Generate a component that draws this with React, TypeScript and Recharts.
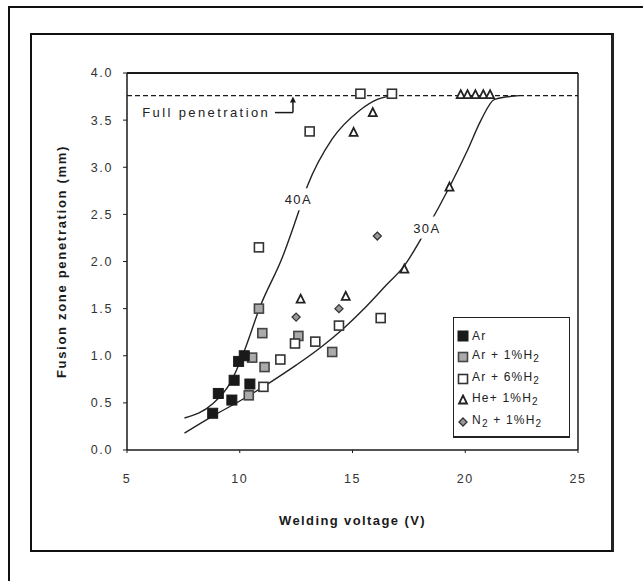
import React from "react";
import {
  ComposedChart,
  Line,
  Scatter,
  XAxis,
  YAxis,
  ReferenceLine,
  ReferenceDot,
  Label,
} from "recharts";

// measured points, [voltage (V), penetration (mm)]
const arPts = [
  [8.8, 0.39], [9.05, 0.6], [9.65, 0.53], [9.75, 0.74], [9.95, 0.94], [10.2, 1.0], [10.45, 0.7],
];
const ar1hPts = [
  [10.4, 0.58], [10.55, 0.98], [11.1, 0.88], [10.85, 1.5], [11.0, 1.24], [12.6, 1.21], [14.1, 1.04],
];
const ar6hPts = [
  [11.05, 0.67], [11.8, 0.96], [12.45, 1.13], [13.35, 1.15], [14.4, 1.32], [16.25, 1.4],
  [10.85, 2.15], [13.1, 3.38], [15.35, 3.78], [16.75, 3.78],
];
const he1hPts = [
  [12.7, 1.6], [14.7, 1.63], [15.05, 3.37], [15.9, 3.58], [17.3, 1.92], [19.3, 2.79],
  [19.8, 3.77], [20.1, 3.77], [20.45, 3.77], [20.8, 3.77], [21.1, 3.77],
];
const n21hPts = [
  [12.5, 1.41], [14.4, 1.5], [16.1, 2.27],
];

// hand-drawn trend curves
const curve40A = [
  [7.55, 0.34], [8.8, 0.49], [9.6, 0.72], [10.2, 1.05], [10.9, 1.52], [11.9, 2.05],
  [12.5, 2.45], [13.0, 2.8], [14.1, 3.3], [15.3, 3.6], [16.1, 3.72], [16.8, 3.76],
];
const curve30A = [
  [7.55, 0.18], [8.8, 0.36], [10.0, 0.52], [11.3, 0.71], [12.5, 0.9], [13.6, 1.09],
  [14.6, 1.29], [15.6, 1.52], [16.5, 1.75], [17.25, 1.94], [18.3, 2.35], [19.3, 2.79],
  [20.1, 3.18], [20.7, 3.5], [21.3, 3.72], [22.4, 3.76],
];

const fullPen = 3.76;
const xTicks = [5, 10, 15, 20, 25];
const yTicks = [0, 0.5, 1, 1.5, 2, 2.5, 3, 3.5, 4];

const toXY = (pts: number[][]) => pts.map(([x, y]) => ({ x, y }));

const INK = "#1a1a1a";
const FONT = "'Liberation Sans', Arial, sans-serif";
const tickStyle = { fill: "#333", fontSize: 12.5, fontFamily: FONT, letterSpacing: 1.6 };

const blackSquare = (p: any) => (
  <rect x={p.cx - 5} y={p.cy - 5} width={10} height={10} fill={INK} stroke={INK} />
);
const graySquare = (p: any) => (
  <rect x={p.cx - 4.5} y={p.cy - 4.5} width={9} height={9} fill="#aaa" stroke="#444" strokeWidth={1.6} />
);
const openSquare = (p: any) => (
  <rect x={p.cx - 4.5} y={p.cy - 4.5} width={9} height={9} fill="#fff" stroke="#333" strokeWidth={1.6} />
);
const triangle = (p: any) => (
  <path
    d={`M${p.cx},${p.cy - 4.5} L${p.cx + 4},${p.cy + 3.5} L${p.cx - 4},${p.cy + 3.5} Z`}
    fill="#fff"
    stroke="#222"
    strokeWidth={1.8}
  />
);
const diamond = (p: any) => (
  <path
    d={`M${p.cx},${p.cy - 4} L${p.cx + 4},${p.cy} L${p.cx},${p.cy + 4} L${p.cx - 4},${p.cy} Z`}
    fill="#999"
    stroke="#333"
    strokeWidth={1.3}
  />
);

const curveLabel = (text: string) => (p: any) => (
  <g>
    <rect x={p.cx - 19} y={p.cy - 11} width={38} height={22} fill="#fff" />
    <text
      x={p.cx}
      y={p.cy + 5}
      textAnchor="middle"
      fontSize={13}
      letterSpacing={1.4}
      fill="#222"
      fontFamily={FONT}
    >
      {text}
    </text>
  </g>
);

const LegendMark = ({ kind }: { kind: string }) => {
  const p = { cx: 6, cy: 6 };
  let m: React.ReactNode = null;
  if (kind === "ar") m = blackSquare(p);
  if (kind === "ar1") m = graySquare(p);
  if (kind === "ar6") m = openSquare(p);
  if (kind === "he") m = triangle(p);
  if (kind === "n2") m = diamond(p);
  return (
    <svg width={12} height={12} style={{ marginRight: 3, flex: "none" }}>
      {m}
    </svg>
  );
};

const legendRows: [string, React.ReactNode][] = [
  ["ar", <>Ar</>],
  ["ar1", <>Ar + 1%H<sub>2</sub></>],
  ["ar6", <>Ar + 6%H<sub>2</sub></>],
  ["he", <>He+ 1%H<sub>2</sub></>],
  ["n2", <>N<sub>2</sub> + 1%H<sub>2</sub></>],
];

export default function App() {
  return (
    <div
      style={{
        position: "absolute",
        left: 0,
        top: 0,
        width: 643,
        height: 581,
        background: "#fff",
        overflow: "hidden",
        fontFamily: FONT,
      }}
    >
      {/* outer frame */}
      <div
        style={{
          position: "absolute",
          left: 8,
          top: 6,
          width: 700,
          height: 700,
          borderLeft: "2px solid #111",
          borderTop: "2px solid #111",
        }}
      />
      {/* figure box */}
      <div
        style={{
          position: "absolute",
          left: 30,
          top: 33,
          width: 579,
          height: 515,
          border: "2px solid #111",
          borderRight: "3px solid #222",
        }}
      />

      <div style={{ position: "absolute", left: 0, top: 0 }}>
        <ComposedChart
          width={643}
          height={581}
          margin={{ top: 73, right: 65, bottom: 91, left: 77 }}
        >
          <XAxis
            type="number"
            dataKey="x"
            domain={[5, 25]}
            ticks={xTicks}
            allowDataOverflow
            height={40}
            axisLine={{ stroke: INK, strokeWidth: 1.5 }}
            tickLine={{ stroke: INK }}
            tickSize={3}
            tickMargin={21}
            tick={tickStyle}
          >
            <Label
              value="Welding voltage (V)"
              position="insideBottom"
              offset={-35}
              style={{ fill: INK, fontSize: 13, fontWeight: "bold", fontFamily: FONT, letterSpacing: 1.4 }}
            />
          </XAxis>
          <YAxis
            type="number"
            dataKey="y"
            domain={[0, 4]}
            ticks={yTicks}
            allowDataOverflow
            width={50}
            axisLine={{ stroke: INK, strokeWidth: 1.5 }}
            tickLine={{ stroke: INK }}
            tickSize={4}
            tickMargin={10}
            tickFormatter={(v: number) => v.toFixed(1)}
            tick={tickStyle}
          >
            <Label
              value="Fusion zone penetration (mm)"
              angle={-90}
              position="insideLeft"
              offset={-16}
              style={{
                textAnchor: "middle",
                fill: INK,
                fontSize: 13,
                fontWeight: "bold",
                fontFamily: FONT,
                letterSpacing: 1.7,
              }}
            />
          </YAxis>

          {/* plot frame top and right */}
          <ReferenceLine y={4} stroke={INK} strokeWidth={2} />
          <ReferenceLine x={25} stroke={INK} strokeWidth={1.5} />

          {/* full penetration level */}
          <ReferenceLine y={fullPen} stroke={INK} strokeWidth={1.3} strokeDasharray="5 3" />

          <Line
            data={toXY(curve40A)}
            dataKey="y"
            type="monotone"
            stroke="#222"
            strokeWidth={1.4}
            dot={false}
            isAnimationActive={false}
          />
          <Line
            data={toXY(curve30A)}
            dataKey="y"
            type="monotone"
            stroke="#222"
            strokeWidth={1.4}
            dot={false}
            isAnimationActive={false}
          />

          <Scatter data={toXY(ar1hPts)} shape={graySquare} isAnimationActive={false} />
          <Scatter data={toXY(ar6hPts)} shape={openSquare} isAnimationActive={false} />
          <Scatter data={toXY(arPts)} shape={blackSquare} isAnimationActive={false} />
          <Scatter data={toXY(he1hPts)} shape={triangle} isAnimationActive={false} />
          <Scatter data={toXY(n21hPts)} shape={diamond} isAnimationActive={false} />

          {/* curve labels */}
          <ReferenceDot x={12.6} y={2.66} r={0} shape={curveLabel("40A")} />
          <ReferenceDot x={18.3} y={2.36} r={0} shape={curveLabel("30A")} />

          {/* "Full penetration" callout */}
          <ReferenceLine
            segment={[
              { x: 11.56, y: 3.58 },
              { x: 12.36, y: 3.58 },
            ]}
            stroke={INK}
            strokeWidth={1.5}
          />
          <ReferenceLine
            segment={[
              { x: 12.36, y: 3.58 },
              { x: 12.36, y: 3.7 },
            ]}
            stroke={INK}
            strokeWidth={1.5}
          />
          <ReferenceDot
            x={12.36}
            y={3.72}
            r={0}
            shape={(p: any) => (
              <path d={`M${p.cx},${p.cy - 3} L${p.cx + 3},${p.cy + 3} L${p.cx - 3},${p.cy + 3} Z`} fill={INK} />
            )}
          />
          <ReferenceDot
            x={11.35}
            y={3.58}
            r={0}
            shape={(p: any) => (
              <text
                x={p.cx}
                y={p.cy + 4}
                textAnchor="end"
                fontSize={13}
                letterSpacing={2.4}
                fill="#222"
                fontFamily={FONT}
              >
                Full penetration
              </text>
            )}
          />
        </ComposedChart>
      </div>

      {/* legend */}
      <div
        style={{
          position: "absolute",
          left: 453,
          top: 317,
          width: 117,
          height: 121,
          border: "1.5px solid #222",
          borderBottom: "2.5px solid #222",
          background: "#fff",
          padding: "7px 0 0 3px",
          boxSizing: "border-box",
          fontSize: 12,
          letterSpacing: 1.2,
          color: "#222",
        }}
      >
        {legendRows.map(([k, t]) => (
          <div key={k} style={{ display: "flex", alignItems: "center", height: 21.5, lineHeight: "12px" }}>
            <LegendMark kind={k} />
            <span style={{ whiteSpace: "nowrap" }}>{t}</span>
          </div>
        ))}
      </div>
    </div>
  );
}
